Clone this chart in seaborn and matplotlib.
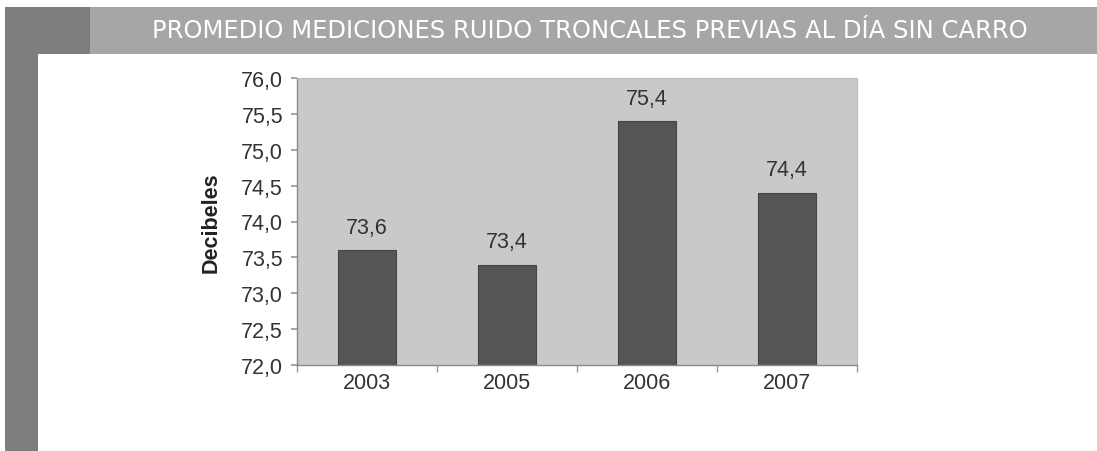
import matplotlib
matplotlib.use("Agg")
import matplotlib.pyplot as plt
import seaborn as sns
import pandas as pd
from matplotlib.patches import Rectangle
from matplotlib.ticker import FixedLocator, FuncFormatter

years = ["2003", "2005", "2006", "2007"]
values = [73.6, 73.4, 75.4, 74.4]
ytick_values = [72.0, 72.5, 73.0, 73.5, 74.0, 74.5, 75.0, 75.5, 76.0]
title = "PROMEDIO MEDICIONES RUIDO TRONCALES PREVIAS AL DÍA SIN CARRO"
ylabel = "Decibeles"

sns.set_theme(style="white")
plt.rcParams["font.family"] = ["Liberation Sans", "DejaVu Sans"]

df = pd.DataFrame({"year": years, "value": values})

W, H = 1097, 452
fig = plt.figure(figsize=(W / 100, H / 100), dpi=100)
fig.patch.set_facecolor("white")

# banner and left strip
fig.patches.append(Rectangle((5 / W, 1 - 55 / H), 1, 47 / H, transform=fig.transFigure,
                             facecolor="#a6a6a6", edgecolor="none", zorder=0))
fig.patches.append(Rectangle((5 / W, 1 - 55 / H), 85 / W, 47 / H, transform=fig.transFigure,
                             facecolor="#7e7e7e", edgecolor="none", zorder=1))
fig.patches.append(Rectangle((5 / W, 0), 33 / W, 1 - 55 / H, transform=fig.transFigure,
                             facecolor="#7e7e7e", edgecolor="none", zorder=1))
fig.text(590 / W, 1 - 31 / H, title, ha="center", va="center", color="white",
         fontsize=17.5, family=["DejaVu Sans"])

ax = fig.add_axes([297 / W, 1 - 366 / H, 560 / W, 287 / H])
ax.set_facecolor("#c9c9c9")
sns.barplot(data=df, x="year", y="value", color="#555555", width=0.41,
            saturation=1, ax=ax, edgecolor="#444444", linewidth=0.8)

fs = 15.5
ax.set_ylim(72.0, 76.0)
ax.set_xlim(-0.5, 3.5)
ax.yaxis.set_major_locator(FixedLocator(ytick_values))
ax.yaxis.set_major_formatter(FuncFormatter(lambda v, p: f"{v:.1f}".replace(".", ",")))
ax.tick_params(axis="y", labelsize=fs, colors="#333333", length=4, color="#999999",
               direction="out", left=True, pad=6)
ax.tick_params(axis="x", labelsize=fs, colors="#333333", length=0, pad=5)
ax.xaxis.set_minor_locator(FixedLocator([-0.5, 0.5, 1.5, 2.5, 3.5]))
ax.tick_params(axis="x", which="minor", length=5, color="#999999", direction="out", bottom=True)

ax.set_xlabel("")
ax.set_ylabel(ylabel, fontsize=fs, fontweight="bold", color="#222222", labelpad=14)

for s in ["left", "bottom"]:
    ax.spines[s].set_color("#8a8a8a")
    ax.spines[s].set_linewidth(1.0)
for s in ["top", "right"]:
    ax.spines[s].set_color("#bdbdbd")
    ax.spines[s].set_linewidth(0.8)

for i, v in enumerate(values):
    ax.annotate(f"{v:.1f}".replace(".", ","), (i, v), xytext=(0, 9), textcoords="offset points",
                ha="center", va="bottom", fontsize=fs, color="#333333")

fig.savefig("out.png", dpi=100, facecolor=fig.get_facecolor())
